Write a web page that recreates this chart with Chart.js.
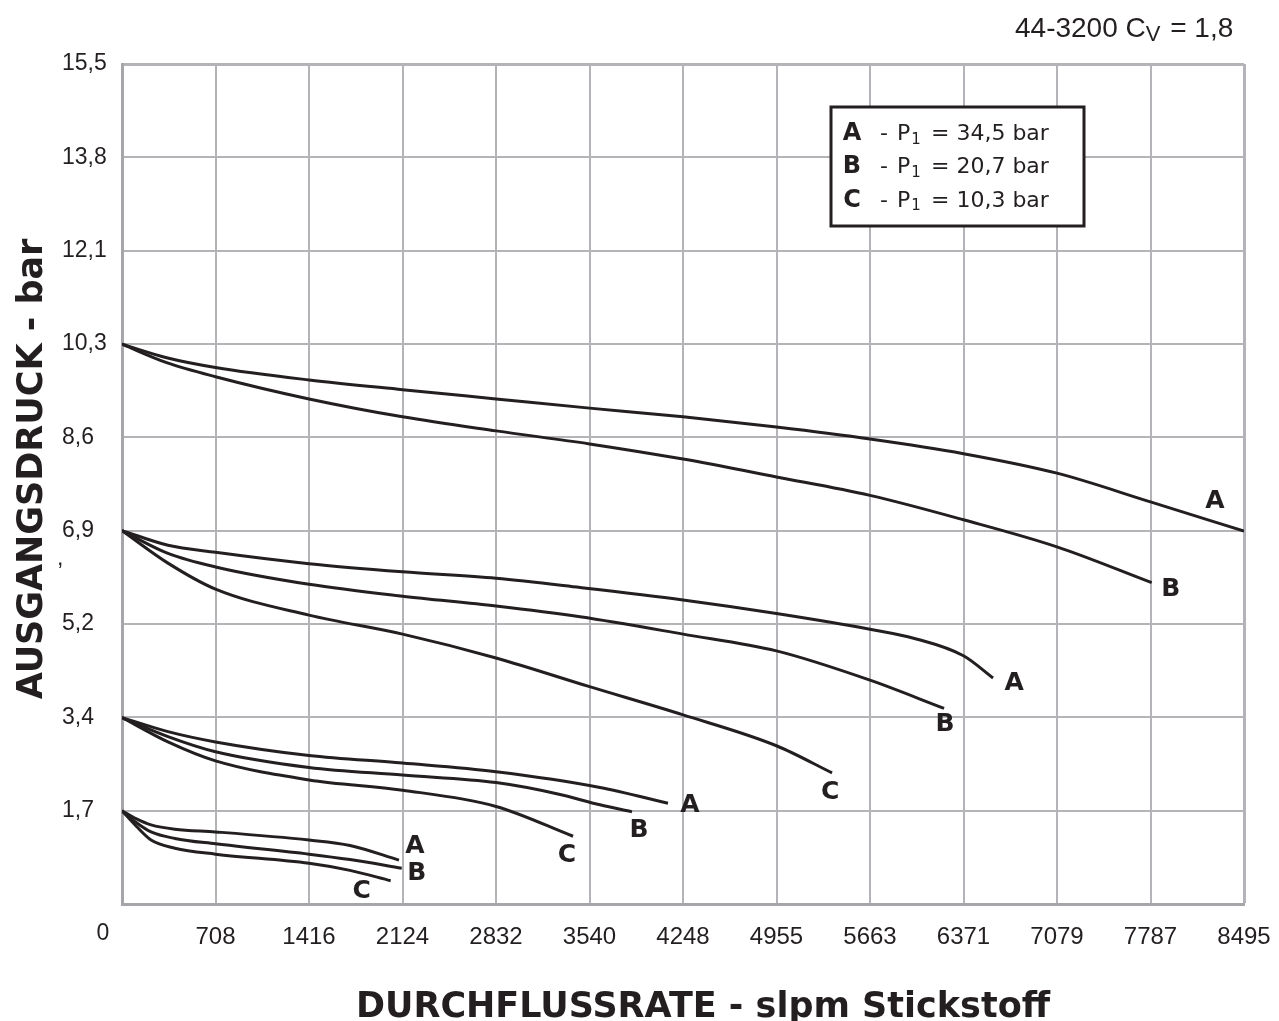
<!DOCTYPE html>
<html lang="de">
<head>
<meta charset="utf-8">
<title>44-3200 Durchflusskurven</title>
<script src="https://cdn.jsdelivr.net/npm/chart.js@4.4.1/dist/chart.umd.min.js"></script>
<style>
  html, body { margin: 0; padding: 0; background: #fff; }
  #wrap { width: 1279px; height: 1021px; }
</style>
</head>
<body>
<div id="wrap"><canvas id="chart" width="1279" height="1021"></canvas></div>
<script>
// 44-3200 Cv = 1,8 : Ausgangsdruck ueber Durchflussrate

// axis ticks
const X_MAX = 8495;
const Y_MAX = 15.5;
const xTickLabels = ['', '708', '1416', '2124', '2832', '3540', '4248', '4955', '5663', '6371', '7079', '7787', '8495'];
const yTickLabels = ['', '1,7', '3,4', '5,2', '6,9', '8,6', '10,3', '12,1', '13,8', '15,5'];

// legend: P1 per curve letter
const legendTags = ['A', 'B', 'C'];
const legendP1 = ['34,5', '20,7', '10,3'];

// P2 set to 10,3 bar
const flowA1 = [0, 338, 708, 1416, 2124, 2832, 3540, 4248, 4955, 5663, 6371, 7079, 7787, 8495];
const presA1 = [10.33, 10.08, 9.90, 9.67, 9.49, 9.32, 9.15, 8.99, 8.80, 8.58, 8.31, 7.95, 7.42, 6.88];
const flowB1 = [0, 338, 708, 1416, 2124, 2832, 3540, 4248, 4955, 5663, 6371, 7079, 7796];
const presB1 = [10.33, 9.99, 9.73, 9.32, 8.99, 8.73, 8.49, 8.21, 7.88, 7.54, 7.09, 6.59, 5.93];

// P2 set to 6,9 bar
const flowA2 = [0, 348, 708, 1416, 2124, 2832, 3468, 4248, 4955, 5663, 6000, 6371, 6595];
const presA2 = [6.89, 6.62, 6.49, 6.28, 6.13, 6.01, 5.84, 5.61, 5.36, 5.07, 4.90, 4.58, 4.17];
const flowB2 = [0, 348, 708, 1416, 2124, 2832, 3468, 4248, 4955, 5663, 6224];
const presB2 = [6.89, 6.47, 6.22, 5.90, 5.68, 5.50, 5.30, 4.98, 4.67, 4.13, 3.61];
const flowC2 = [0, 348, 708, 1416, 2124, 2832, 3540, 4248, 4955, 5376];
const presC2 = [6.89, 6.29, 5.81, 5.33, 4.98, 4.54, 4.01, 3.49, 2.92, 2.42];

// P2 set to 3,4 bar
const flowA3 = [0, 348, 708, 1416, 2124, 2832, 3619, 4134];
const presA3 = [3.44, 3.18, 2.99, 2.74, 2.60, 2.44, 2.15, 1.86];
const flowB3 = [0, 348, 708, 1416, 2124, 2832, 3300, 3619, 3861];
const presB3 = [3.44, 3.09, 2.81, 2.52, 2.38, 2.24, 2.03, 1.83, 1.70];
const flowC3 = [0, 348, 708, 1416, 2124, 2832, 3415];
const presC3 = [3.44, 2.99, 2.64, 2.29, 2.10, 1.80, 1.25];

// P2 set to 1,7 bar
const flowA4 = [0, 110, 220, 400, 708, 1416, 1726, 2097];
const presA4 = [1.72, 1.57, 1.46, 1.38, 1.33, 1.18, 1.08, 0.81];
const flowB4 = [0, 110, 220, 400, 708, 1416, 1726, 2118];
const presB4 = [1.72, 1.50, 1.33, 1.21, 1.11, 0.92, 0.82, 0.66];
const flowC4 = [0, 110, 220, 400, 708, 1416, 1726, 2034];
const presC4 = [1.72, 1.43, 1.18, 1.03, 0.92, 0.75, 0.62, 0.43];

const series = [
  { tag: 'A', flow: flowA1, pres: presA1 },
  { tag: 'B', flow: flowB1, pres: presB1 },
  { tag: 'A', flow: flowA2, pres: presA2 },
  { tag: 'B', flow: flowB2, pres: presB2 },
  { tag: 'C', flow: flowC2, pres: presC2 },
  { tag: 'A', flow: flowA3, pres: presA3 },
  { tag: 'B', flow: flowB3, pres: presB3 },
  { tag: 'C', flow: flowC3, pres: presC3 },
  { tag: 'A', flow: flowA4, pres: presA4 },
  { tag: 'B', flow: flowB4, pres: presB4 },
  { tag: 'C', flow: flowC4, pres: presC4 }
];

// pixel offset of each letter from its curve end
const tagOffsets = [[-29, -32], [19, 4], [21, 3], [1, 14], [-2, 17], [22, 0], [7, 16], [-6, 17], [16, -16], [15, 3], [-29, 8]];

const INK = '#231f20';
const GRID = '#b4b4b8';
const FRAME = '#a6a6aa';
const SANS = '"Liberation Sans", Arial, sans-serif';
const HEAVY = '"DejaVu Sans", sans-serif';

const datasets = series.map(s => ({
  label: s.tag,
  tag: s.tag,
  data: s.flow.map((f, i) => ({ x: f, y: s.pres[i] })),
  borderColor: INK,
  borderWidth: 3,
  pointRadius: 0,
  fill: false,
  cubicInterpolationMode: 'monotone'
}));

// texts that are not part of the axes: header, legend box, letters, axis titles
const annotations = {
  id: 'annotations',
  afterDraw(chart) {
    const { ctx, scales: { x, y } } = chart;
    ctx.save();
    ctx.fillStyle = INK;
    ctx.textBaseline = 'alphabetic';

    // curve letters
    ctx.font = 'bold 25px ' + HEAVY;
    ctx.textAlign = 'center';
    chart.data.datasets.forEach((ds, i) => {
      const end = ds.data[ds.data.length - 1];
      const [dx, dy] = tagOffsets[i];
      ctx.fillText(ds.tag, x.getPixelForValue(end.x) + dx, y.getPixelForValue(end.y) + dy + 9);
    });

    // legend box
    const lx = 831, ly = 107, lw = 253, lh = 119;
    ctx.fillStyle = '#fff';
    ctx.fillRect(lx, ly, lw, lh);
    ctx.lineWidth = 3;
    ctx.strokeStyle = INK;
    ctx.strokeRect(lx, ly, lw, lh);
    ctx.fillStyle = INK;
    legendTags.forEach((t, i) => {
      const base = 140 + i * 33.3;
      ctx.textAlign = 'center';
      ctx.font = 'bold 24px ' + HEAVY;
      ctx.fillText(t, 852, base);
      ctx.textAlign = 'left';
      ctx.font = '22px ' + HEAVY;
      ctx.fillText('-', 880, base);
      ctx.fillText('P', 897, base);
      const pw = ctx.measureText('P').width;
      ctx.fillText('= ' + legendP1[i] + ' bar', 931, base);
      ctx.font = '15px ' + HEAVY;
      ctx.fillText('1', 897 + pw + 1, base + 3.5);
    });

    // header top right
    ctx.textAlign = 'left';
    ctx.font = '28px ' + SANS;
    const h1 = '44-3200 C';
    ctx.fillText(h1, 1015, 37);
    let hx = 1015 + ctx.measureText(h1).width;
    ctx.font = '22px ' + SANS;
    ctx.fillText('V', hx, 41);
    hx += ctx.measureText('V').width;
    ctx.font = '28px ' + SANS;
    ctx.fillText(' = 1,8', hx + 2, 37);

    // origin label and the stray comma under 6,9
    ctx.font = '23px ' + SANS;
    ctx.textAlign = 'center';
    ctx.fillText('0', 103, 940);
    ctx.textAlign = 'left';
    ctx.fillText(',', 57, 565);

    // axis titles
    ctx.font = 'bold 35px ' + HEAVY;
    ctx.textAlign = 'center';
    ctx.fillText('DURCHFLUSSRATE - slpm Stickstoff', 703, 1017);
    ctx.translate(42, 469);
    ctx.rotate(-Math.PI / 2);
    ctx.fillText('AUSGANGSDRUCK - bar', 0, 0);
    ctx.restore();
  }
};

new Chart(document.getElementById('chart'), {
  type: 'line',
  data: { datasets },
  plugins: [annotations],
  options: {
    responsive: false,
    animation: false,
    events: [],
    layout: { padding: { top: 64, right: 35, left: 62, bottom: 0 } },
    plugins: {
      legend: { display: false },
      tooltip: { enabled: false }
    },
    scales: {
      x: {
        type: 'linear',
        min: 0,
        max: X_MAX,
        afterBuildTicks: s => {
          s.ticks = xTickLabels.map((_, i) => ({ value: i * X_MAX / (xTickLabels.length - 1) }));
        },
        afterFit: s => { s.height = 117; s.paddingLeft = 0; s.paddingRight = 0; },
        ticks: {
          autoSkip: false,
          maxRotation: 0,
          padding: 19,
          color: INK,
          font: { family: SANS, size: 24 },
          callback: (v, i) => xTickLabels[i]
        },
        grid: {
          color: GRID,
          lineWidth: c => (c.index === xTickLabels.length - 1 ? 3 : 2),
          drawTicks: false
        },
        border: { color: FRAME, width: 3 }
      },
      y: {
        type: 'linear',
        min: 0,
        max: Y_MAX,
        afterBuildTicks: s => {
          s.ticks = yTickLabels.map((_, i) => ({ value: i * Y_MAX / (yTickLabels.length - 1) }));
        },
        afterFit: s => { s.width = 60; s.paddingTop = 0; s.paddingBottom = 0; },
        ticks: {
          autoSkip: false,
          crossAlign: 'far',
          padding: 16,
          color: INK,
          font: { family: SANS, size: 23 },
          callback: (v, i) => yTickLabels[i]
        },
        grid: {
          color: GRID,
          lineWidth: c => (c.index === yTickLabels.length - 1 ? 3 : 2),
          drawTicks: false
        },
        border: { color: FRAME, width: 3 }
      }
    }
  }
});
</script>
</body>
</html>
